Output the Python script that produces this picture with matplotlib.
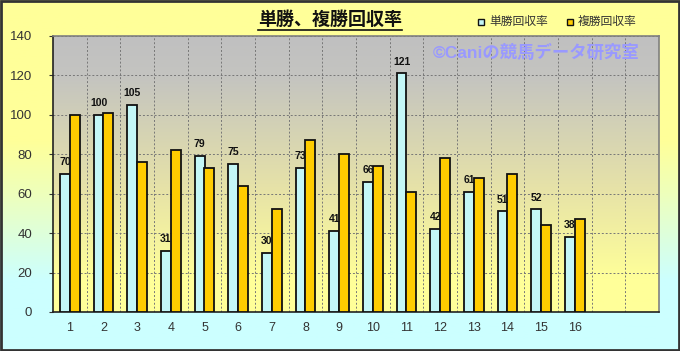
import numpy as np
import matplotlib
matplotlib.use("Agg")
import matplotlib.pyplot as plt
from matplotlib.colors import LinearSegmentedColormap
from matplotlib.patches import Rectangle

plt.rcParams['font.family'] = ['Liberation Sans', 'Noto Sans CJK JP', 'DejaVu Sans']

categories = [str(i) for i in range(1, 17)]
win_values = [70, 100, 105, 31, 79, 75, 30, 73, 41, 66, 121, 42, 61, 51, 52, 38]
place_values = [100, 101, 76, 82, 73, 64, 52, 87, 80, 74, 61, 78, 68, 70, 44, 47]
y_ticks = [0, 20, 40, 60, 80, 100, 120, 140]
title = "単勝、複勝回収率"
series_names = ["単勝回収率", "複勝回収率"]
watermark = "©Caniの競馬データ研究室"
n_slots = 18

W, H = 680, 351
fig = plt.figure(figsize=(W / 100, H / 100), dpi=100)

# figure background gradient
bg = fig.add_axes([0, 0, 1, 1], zorder=-10)
cm_bg = LinearSegmentedColormap.from_list(
    "bg", [(0, "#CCFFFF"), (0.2, "#CCFFFF"), (0.45, "#EEFFBB"), (0.6, "#FFFF99"), (1, "#FFFF99")])
grad = np.linspace(0, 1, 256).reshape(-1, 1)
bg.imshow(grad, aspect='auto', cmap=cm_bg, extent=[0, 1, 0, 1], origin='lower')
bg.set_xlim(0, 1); bg.set_ylim(0, 1)
bg.axis('off')
bg.add_patch(Rectangle((0.001, 0.002), 0.997, 0.995, fill=False, edgecolor="#333333", lw=2,
                       transform=bg.transAxes))

left, right = 53 / W, 659 / W
bottom, top = (H - 312) / H, (H - 36) / H
ax = fig.add_axes([left, bottom, right - left, top - bottom])
ax.set_facecolor('none')

cm_pa = LinearSegmentedColormap.from_list(
    "pa", [(0, "#FFFF99"), (0.12, "#FFFF99"), (0.45, "#E6E2A8"), (0.85, "#C4C4C0"), (1, "#C0C0C0")])
ax.imshow(grad, aspect='auto', cmap=cm_pa, extent=[0, 1, 0, 1], origin='lower',
          transform=ax.transAxes, zorder=0)

x = np.arange(1, len(categories) + 1)
w = 0.29
ax.bar(x - w / 2, win_values, width=w, color="#C4F7F7", edgecolor="#111111", linewidth=1.3, zorder=3)
ax.bar(x + w / 2, place_values, width=w, color="#FFCC00", edgecolor="#111111", linewidth=1.3, zorder=3)

for xi, v in zip(x, win_values):
    ax.text(xi - w / 2, v + 3.5, str(v), ha='center', va='bottom', fontsize=7.5, fontweight='bold',
            color="#111111", zorder=4)

ax.set_xlim(0.5, n_slots + 0.5)
ax.set_ylim(0, 140)
ax.set_yticks(y_ticks)
ax.set_yticklabels([str(t) for t in y_ticks], fontsize=9.5, color="#333333")
ax.set_xticks(x)
ax.set_xticklabels(categories, fontsize=9, color="#333333")
ax.tick_params(axis='x', length=0, pad=7)
ax.tick_params(axis='y', length=3, pad=12, color="#333333")
ax.set_xticks(np.arange(1.5, n_slots + 0.5, 1), minor=True)
ax.tick_params(axis='x', which='minor', length=0)
ax.grid(axis='y', which='major', linestyle=(0, (2, 2)), color="#777777", linewidth=0.7, zorder=1)
ax.grid(axis='x', which='minor', linestyle=(0, (2, 2)), color="#777777", linewidth=0.7, zorder=1)
ax.grid(axis='x', which='major', visible=False)
for s in ['top', 'right']:
    ax.spines[s].set_color("#808080")
    ax.spines[s].set_linewidth(1.2)
for s in ['left', 'bottom']:
    ax.spines[s].set_color("#222222")
    ax.spines[s].set_linewidth(1.2)

ax.text((536 - 53) / (659 - 53), (312 - 52) / (312 - 36), watermark,
        transform=ax.transAxes, ha='center', va='center', fontsize=12.5, fontweight='bold',
        color="#9999FF", zorder=2)

# title with underline
fig.text(330 / W, 1 - 20 / H, title, ha='center', va='center', fontsize=13, fontweight='bold',
         color="#111111")
fig.add_artist(plt.Line2D([258 / W, 402 / W], [1 - 29.5 / H, 1 - 29.5 / H], color="#111111", lw=1.2))

# legend
for sx, tx, name, col in [(481, 489, series_names[0], "#C4F7F7"), (570, 578, series_names[1], "#FFCC00")]:
    fig.add_artist(Rectangle((sx / W - 3 / W, 1 - 25 / H), 6 / W, 6 / H, facecolor=col,
                             edgecolor="#111111", lw=1, transform=fig.transFigure))
    fig.text(tx / W, 1 - 22 / H, name, ha='left', va='center', fontsize=8.5, color="#333333")

fig.savefig("out.png", dpi=100)
